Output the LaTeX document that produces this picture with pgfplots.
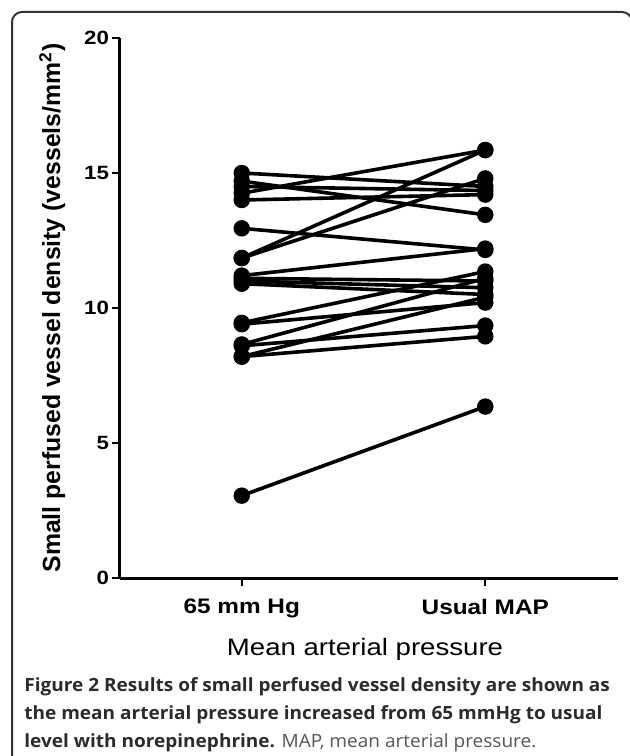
\documentclass[border=0pt]{standalone}
\usepackage{fontspec}
\setmainfont{Liberation Sans}
\newfontfamily\capfont{Open Sans}
\usepackage{pgfplots}
\pgfplotsset{compat=1.18}
\definecolor{frameC}{HTML}{333333}
\definecolor{capC}{HTML}{2B2B2B}
\definecolor{capL}{HTML}{555555}
% the original art is stretched sideways a little
\newcommand{\wide}[1]{\scalebox{1.16}[1]{#1}}

\begin{document}
\begin{tikzpicture}
  \useasboundingbox (0,0) rectangle (315pt,378pt);
  % frame round the figure
  \draw[frameC, line width=1pt, rounded corners=5pt]
    (6pt,-2pt) -- (6pt,372pt) -- (316pt,372pt) -- (316pt,-2pt);

  \begin{axis}[
      at={(60pt,89pt)}, anchor=south west,
      scale only axis,
      width=249pt, height=270pt,
      axis lines*=left,
      axis line style={line width=1.5pt},
      xmin=-0.5, xmax=1.545,
      ymin=0, ymax=20,
      xtick={0,1},
      xticklabels={\wide{65 mm Hg}, \wide{Usual MAP}},
      ytick={0,5,10,15,20},
      yticklabel={\wide{\pgfmathprintnumber{\tick}}},
      tick align=outside,
      major tick length=4pt,
      tick style={line width=1.2pt, black},
      /pgf/number format/assume math mode=true,
      xticklabel style={font=\fontsize{10.5}{12}\selectfont\bfseries, yshift=-3pt},
      yticklabel style={font=\fontsize{9.6}{11}\selectfont\bfseries, xshift=2pt},
      xlabel={\wide{Mean arterial pressure}},
      xlabel style={font=\fontsize{11.9}{13}\selectfont,
        at={(axis description cs:0.492,0)}, anchor=base, yshift=-38.5pt},
      ylabel={Small perfused vessel density (vessels/mm\textsuperscript{2})},
      ylabel style={font=\fontsize{12.4}{13}\selectfont\bfseries,
        at={(axis description cs:-0.136,0.5)}, anchor=center},
      clip=false,
      pair/.style={black, line width=1.8pt, mark=*, mark size=3.2pt,
        mark options={solid, fill=black}},
    ]
    \addplot[pair] coordinates {(0,15.0)  (1,14.5)};
    \addplot[pair] coordinates {(0,14.7)  (1,13.45)};
    \addplot[pair] coordinates {(0,14.5)  (1,14.35)};
    \addplot[pair] coordinates {(0,14.25) (1,15.85)};
    \addplot[pair] coordinates {(0,14.0)  (1,14.2)};
    \addplot[pair] coordinates {(0,12.95) (1,12.15)};
    \addplot[pair] coordinates {(0,11.85) (1,15.85)};
    \addplot[pair] coordinates {(0,11.85) (1,14.8)};
    \addplot[pair] coordinates {(0,11.2)  (1,12.2)};
    \addplot[pair] coordinates {(0,11.1)  (1,11.0)};
    \addplot[pair] coordinates {(0,11.0)  (1,10.75)};
    \addplot[pair] coordinates {(0,10.9)  (1,10.5)};
    \addplot[pair] coordinates {(0,9.45)  (1,11.35)};
    \addplot[pair] coordinates {(0,9.4)   (1,10.2)};
    \addplot[pair] coordinates {(0,8.65)  (1,11.1)};
    \addplot[pair] coordinates {(0,8.6)   (1,9.35)};
    \addplot[pair] coordinates {(0,8.2)   (1,10.4)};
    \addplot[pair] coordinates {(0,8.2)   (1,8.95)};
    \addplot[pair] coordinates {(0,3.05)  (1,6.35)};
  \end{axis}

  % caption, one node per line
  \begin{scope}[every node/.style={anchor=base west, inner sep=0pt,
      font=\capfont\fontsize{9.1}{11}\selectfont}]
    \node at (12pt,32pt) {\scalebox{1.045}[1]{\textcolor{capC}{\bfseries Figure 2 Results of small perfused vessel density are shown as}}};
    \node at (12pt,18pt) {\scalebox{1.045}[1]{\textcolor{capC}{\bfseries the mean arterial pressure increased from 65 mmHg to usual}}};
    \node at (12pt,4.5pt) {\scalebox{1.045}[1]{\textcolor{capC}{\bfseries level with norepinephrine.} \textcolor{capL}{MAP, mean arterial pressure.}}};
  \end{scope}
\end{tikzpicture}
\end{document}
